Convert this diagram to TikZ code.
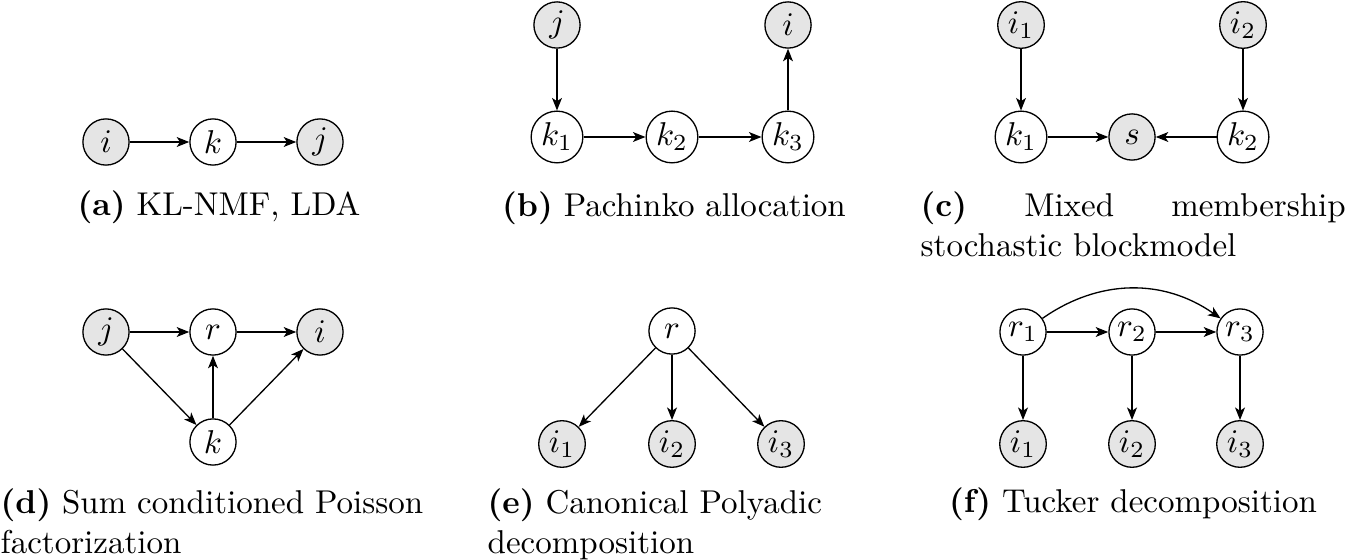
\documentclass[tikz,border=0pt]{standalone}
\usepackage{amsmath,amssymb}
\usepackage{xcolor}
\usepackage{tikz}
\usetikzlibrary{arrows.meta, positioning}

\begin{document}
\begin{tikzpicture}[x=0.303pt, y=-0.303pt, >={Stealth[length=3.8pt, width=3pt, inset=1pt]},
    latent/.style={circle, draw, minimum size=14pt, inner sep=1pt},
    obs/.style={latent, fill=black!10},
    subcap/.style={inner sep=0pt, anchor=base},
    longcap/.style={inner sep=0pt, anchor=north west, text width=128pt}]
    \useasboundingbox (0,0) rectangle (1345,560);
    % (a)
    \node[obs] (ai) at (106,142) {$i$};
    \node[latent] (ak) at (213,142) {$k$};
    \node[obs] (aj) at (320,142) {$j$};
    \draw[->] (ai) -- (ak);
    \draw[->] (ak) -- (aj);
    \node[subcap] (acap) at (219,216) {\textbf{(a)} KL-NMF, LDA};
    % (b)
    \node[obs] (bj) at (557,25) {$j$};
    \node[latent] (bk1) at (557,137) {$k_1$};
    \node[latent] (bk2) at (672,137) {$k_2$};
    \node[latent] (bk3) at (788,137) {$k_3$};
    \node[obs] (bi) at (788,25) {$i$};
    \draw[->] (bj) -- (bk1);
    \draw[->] (bk1) -- (bk2);
    \draw[->] (bk2) -- (bk3);
    \draw[->] (bk3) -- (bi);
    \node[subcap] (bcap) at (674,217) {\textbf{(b)} Pachinko allocation};
    % (c)
    \node[longcap, text width=128.8pt, align=justify] (ccap) at (920,191)
      {\textbf{(c)} Mixed membership stochastic blockmodel};
    \node[obs] (ci1) at (1021,25) {$i_1$};
    \node[latent] (ck1) at (1021,137) {$k_1$};
    \node[obs] (cs) at (1132,137) {$s$};
    \node[latent] (ck2) at (1243,137) {$k_2$};
    \node[obs] (ci2) at (1243,25) {$i_2$};
    \draw[->] (ci1) -- (ck1);
    \draw[->] (ci2) -- (ck2);
    \draw[->] (ck1) -- (cs);
    \draw[->] (ck2) -- (cs);
    % (d)
    \node[obs] (dj) at (106,332) {$j$};
    \node[latent] (dr) at (213,332) {$r$};
    \node[obs] (di) at (320,332) {$i$};
    \node[latent] (dk) at (213,442) {$k$};
    \draw[->] (dj) -- (dr);
    \draw[->] (dr) -- (di);
    \draw[->] (dj) -- (dk);
    \draw[->] (dk) -- (dr);
    \draw[->] (dk) -- (di);
    \node[longcap, align=flush left] (dcap) at (0,488)
      {\textbf{(d)} Sum conditioned Poisson factorization};
    % (e)
    \node[latent] (er) at (672,331) {$r$};
    \node[obs] (ei1) at (562,444) {$i_1$};
    \node[obs] (ei2) at (672,444) {$i_2$};
    \node[obs] (ei3) at (781,444) {$i_3$};
    \draw[->] (er) -- (ei1);
    \draw[->] (er) -- (ei2);
    \draw[->] (er) -- (ei3);
    \node[longcap, text width=105pt, align=flush left] (ecap) at (487,488)
      {\textbf{(e)} Canonical Polyadic decomposition};
    % (f)
    \node[latent] (fr1) at (1023,332) {$r_1$};
    \node[latent] (fr2) at (1132,332) {$r_2$};
    \node[latent] (fr3) at (1240,332) {$r_3$};
    \foreach \n/\x in {1/1023,2/1132,3/1240}{
      \node[obs] (fi\n) at (\x,444) {$i_\n$};
      \draw[->] (fr\n) -- (fi\n);
    }
    \draw[->] (fr1) -- (fr2);
    \draw[->] (fr2) -- (fr3);
    \draw[->] (fr1) to[bend left=35] (fr3);
    \node[subcap] (fcap) at (1133,512) {\textbf{(f)} Tucker decomposition};
\end{tikzpicture}
\end{document}
